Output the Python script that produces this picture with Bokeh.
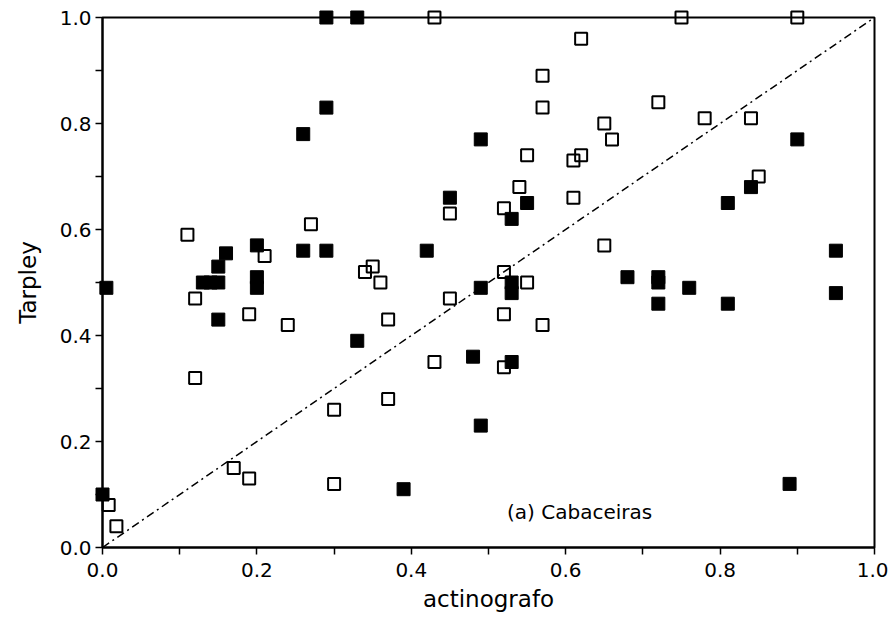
from bokeh.plotting import figure
from bokeh.models import Range1d, FixedTicker, NumeralTickFormatter, Label
from bokeh.embed import file_html
from bokeh.resources import INLINE

# Filled squares
filled_x = [0.0, 0.005, 0.13, 0.14, 0.15, 0.15, 0.16, 0.15, 0.20, 0.20, 0.20, 0.26, 0.29, 0.29,
            0.33, 0.26, 0.29, 0.33, 0.39, 0.42, 0.45, 0.48, 0.49, 0.49, 0.49, 0.53, 0.53, 0.53,
            0.53, 0.55, 0.68, 0.72, 0.72, 0.72, 0.76, 0.81, 0.81, 0.84, 0.89, 0.90, 0.95, 0.95]
filled_y = [0.10, 0.49, 0.50, 0.50, 0.50, 0.53, 0.555, 0.43, 0.57, 0.51, 0.49, 0.78, 0.83, 1.0,
            1.0, 0.56, 0.56, 0.39, 0.11, 0.56, 0.66, 0.36, 0.77, 0.49, 0.23, 0.62, 0.50, 0.48,
            0.35, 0.65, 0.51, 0.51, 0.50, 0.46, 0.49, 0.65, 0.46, 0.68, 0.12, 0.77, 0.56, 0.48]

# Open squares
open_x = [0.008, 0.018, 0.11, 0.12, 0.12, 0.17, 0.19, 0.19, 0.21, 0.24, 0.27, 0.34, 0.35, 0.36,
          0.37, 0.37, 0.30, 0.30, 0.43, 0.43, 0.45, 0.45, 0.52, 0.52, 0.52, 0.52, 0.54, 0.55,
          0.55, 0.57, 0.57, 0.57, 0.61, 0.62, 0.61, 0.62, 0.65, 0.66, 0.65, 0.72, 0.75, 0.78,
          0.84, 0.85, 0.90]
open_y = [0.08, 0.04, 0.59, 0.47, 0.32, 0.15, 0.13, 0.44, 0.55, 0.42, 0.61, 0.52, 0.53, 0.50,
          0.43, 0.28, 0.26, 0.12, 1.0, 0.35, 0.63, 0.47, 0.64, 0.52, 0.44, 0.34, 0.68, 0.74,
          0.50, 0.89, 0.83, 0.42, 0.73, 0.74, 0.66, 0.96, 0.80, 0.77, 0.57, 0.84, 1.0, 0.81,
          0.81, 0.70, 1.0]

line_x = [0.0, 1.0]
line_y = [0.0, 1.0]

major_ticks = [0.0, 0.2, 0.4, 0.6, 0.8, 1.0]
minor_ticks = [0.1, 0.3, 0.5, 0.7, 0.9]

FONT = "DejaVu Sans"

p = figure(output_backend="svg", toolbar_location=None,
           frame_width=772, frame_height=530,
           min_border_left=102, min_border_top=17, min_border_right=14, min_border_bottom=62,
           x_range=Range1d(0, 1), y_range=Range1d(0, 1),
           background_fill_color="white", border_fill_color="white")

p.grid.visible = False
p.outline_line_color = "black"
p.outline_line_width = 2
p.outline_line_alpha = 1.0

for ax in (p.xaxis[0], p.yaxis[0]):
    ax.ticker = FixedTicker(ticks=major_ticks, minor_ticks=minor_ticks)
    ax.formatter = NumeralTickFormatter(format="0.0")
    ax.axis_line_width = 2
    ax.axis_line_color = "black"
    ax.major_tick_line_width = 1.5
    ax.minor_tick_line_width = 1.5
    ax.major_tick_in = 0
    ax.major_tick_out = 7
    ax.minor_tick_in = 0
    ax.minor_tick_out = 7
    ax.major_tick_line_color = "black"
    ax.minor_tick_line_color = "black"
    ax.major_label_text_font = FONT
    ax.major_label_text_font_size = "20px"
    ax.major_label_text_color = "black"
    ax.axis_label_text_font = FONT
    ax.axis_label_text_font_size = "23px"
    ax.axis_label_text_font_style = "normal"
    ax.axis_label_text_color = "black"

p.xaxis.axis_label = "actinografo"
p.yaxis.axis_label = "Tarpley"
p.xaxis.major_label_standoff = 8
p.xaxis.axis_label_standoff = 6
p.yaxis.major_label_standoff = 4
p.yaxis.axis_label_standoff = 16

p.line(line_x, line_y, line_color="black", line_width=1.5, line_dash="8 4 2 4")

r1 = p.scatter(filled_x, filled_y, marker="square", size=13, fill_color="black",
               line_color="black", line_width=1)
r2 = p.scatter(open_x, open_y, marker="square", size=12, fill_color=None,
               line_color="black", line_width=2)
r1.level = "overlay"
r2.level = "overlay"

lab = Label(x=0.524, y=0.067, text="(a) Cabaceiras", text_baseline="middle",
            text_font=FONT, text_font_size="20px", text_color="black")
p.add_layout(lab)

open("out.html", "w").write(file_html(p, INLINE))
